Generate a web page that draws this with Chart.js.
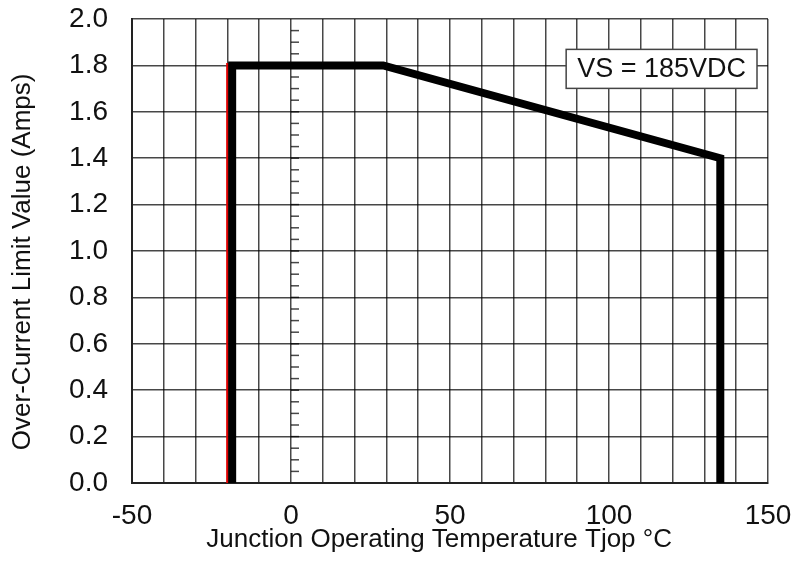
<!DOCTYPE html>
<html>
<head>
<meta charset="utf-8">
<script src="https://cdn.jsdelivr.net/npm/chart.js@4"></script>
<style>
  body { margin: 0; background: #fff; }
</style>
</head>
<body>
<canvas id="olCanvas" width="793" height="565"></canvas>
<script>
// over-current limit curve (black) and the -20 C limit marker (red)
const tempC = [-18.5, -18.5, 29, 135, 135];
const limitAmps = [0, 1.8, 1.8, 1.4, 0];
const markTempC = [-20, -20];
const markAmps = [0, 1.81];
const xTicks = [-50, 0, 50, 100, 150];
const boxLabel = 'VS = 185VDC';
const xTitle = 'Junction Operating Temperature Tjop °C';
const yTitle = 'Over-Current Limit Value (Amps)';

const fontFam = '"Liberation Sans", Arial, sans-serif';
const gridCol = 'rgba(0, 0, 0, 0.72)';

function toPoints(xs, ys) {
    return xs.map((x, i) => ({ x: x, y: ys[i] }));
}

// small ticks along the x = 0 line, plus the VS label box
const extras = {
    id: 'extras',
    afterDatasetsDraw(chart) {
        const ctx = chart.ctx;
        const sx = chart.scales.x, sy = chart.scales.y;
        const x0 = sx.getPixelForValue(0);
        ctx.save();
        ctx.strokeStyle = gridCol;
        ctx.lineWidth = 1.5;
        for (let v = 0.05; v < 2; v += 0.05) {
            const py = sy.getPixelForValue(v);
            ctx.beginPath();
            ctx.moveTo(x0, py);
            ctx.lineTo(x0 + 8, py);
            ctx.stroke();
        }

        ctx.font = '27px ' + fontFam;
        const w = ctx.measureText(boxLabel).width + 22;
        const h = 39;
        const right = sx.getPixelForValue(150) - 11;
        const cy = sy.getPixelForValue(1.785);
        ctx.fillStyle = '#fff';
        ctx.fillRect(right - w, cy - h / 2, w, h);
        ctx.strokeStyle = '#444';
        ctx.lineWidth = 1.5;
        ctx.strokeRect(right - w, cy - h / 2, w, h);
        ctx.fillStyle = '#111';
        ctx.textAlign = 'center';
        ctx.textBaseline = 'middle';
        ctx.fillText(boxLabel, right - w / 2, cy + 1);
        ctx.restore();
    }
};

const olChart = new Chart(document.getElementById('olCanvas'), {
    type: 'scatter',
    data: {
        datasets: [{
            data: toPoints(tempC, limitAmps),
            showLine: true,
            borderColor: '#000',
            borderWidth: 8,
            borderJoinStyle: 'miter',
            pointRadius: 0
        }, {
            data: toPoints(markTempC, markAmps),
            showLine: true,
            borderColor: '#e00000',
            borderWidth: 2.5,
            pointRadius: 0
        }]
    },
    options: {
        responsive: false,
        animation: false,
        layout: { padding: { top: 19, right: 25, left: 0, bottom: 0 } },
        plugins: {
            legend: { display: false },
            tooltip: { enabled: false }
        },
        scales: {
            x: {
                type: 'linear',
                min: -50,
                max: 150,
                afterFit(scale) {
                    scale.height = 82;
                    scale.paddingLeft = 0;
                    scale.paddingRight = 0;
                },
                grid: { color: gridCol, lineWidth: 1.5, drawTicks: false },
                border: { color: '#222', width: 2 },
                ticks: {
                    stepSize: 10,
                    autoSkip: false,
                    maxRotation: 0,
                    padding: 16,
                    color: '#111',
                    font: { family: fontFam, size: 28 },
                    callback: v => xTicks.includes(v) ? String(v) : ''
                },
                title: {
                    display: true,
                    text: xTitle + '   ',
                    color: '#111',
                    font: { family: fontFam, size: 26 },
                    padding: { top: 0, bottom: 10 }
                }
            },
            y: {
                min: 0,
                max: 2,
                afterFit(scale) {
                    scale.width = 132;
                    scale.paddingTop = 0;
                    scale.paddingBottom = 0;
                },
                grid: { color: gridCol, lineWidth: 1.5, drawTicks: false },
                border: { color: '#222', width: 2 },
                ticks: {
                    stepSize: 0.2,
                    padding: 24,
                    color: '#111',
                    font: { family: fontFam, size: 28 },
                    callback: v => v.toFixed(1)
                },
                title: {
                    display: true,
                    text: yTitle + '   ',
                    color: '#111',
                    font: { family: fontFam, size: 26 },
                    padding: { top: 7, bottom: 0 }
                }
            }
        }
    },
    plugins: [extras]
});
</script>
</body>
</html>
